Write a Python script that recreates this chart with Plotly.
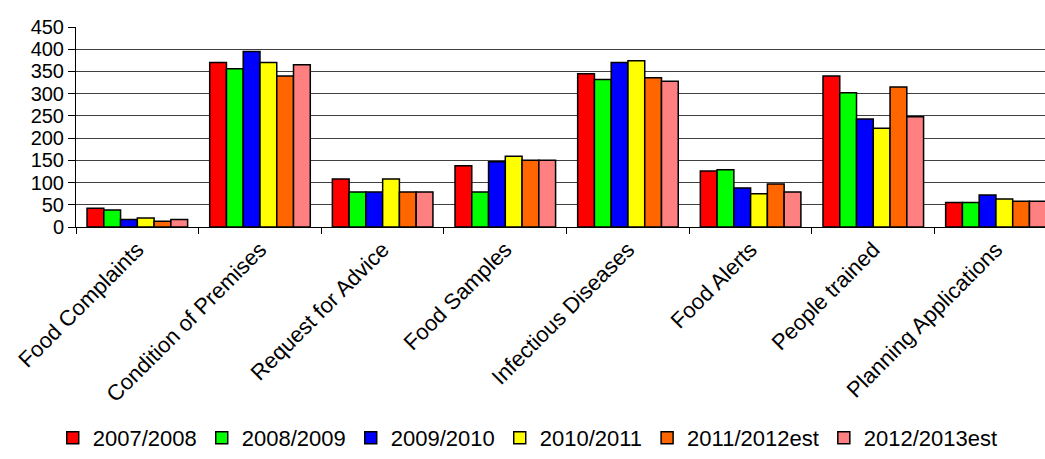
import plotly.graph_objects as go

categories = ["Food Complaints", "Condition of Premises", "Request for Advice", "Food Samples",
              "Infectious Diseases", "Food Alerts", "People trained", "Planning Applications"]

s2007_2008 = [42, 370, 108, 138, 345, 126, 340, 55]
s2008_2009 = [38, 356, 79, 79, 332, 129, 302, 55]
s2009_2010 = [17, 395, 79, 147, 370, 88, 243, 72]
s2010_2011 = [20, 370, 108, 159, 374, 75, 222, 63]
s2011_2012est = [13, 340, 79, 150, 336, 97, 315, 58]
s2012_2013est = [17, 365, 79, 150, 328, 79, 248, 58]

series_names = ["2007/2008", "2008/2009", "2009/2010", "2010/2011", "2011/2012est", "2012/2013est"]
series_values = [s2007_2008, s2008_2009, s2009_2010, s2010_2011, s2011_2012est, s2012_2013est]
colors = ["#FF0000", "#00FF00", "#0000FF", "#FFFF00", "#FF6600", "#FF8080"]

fig = go.Figure()
for name, vals, col in zip(series_names, series_values, colors):
    fig.add_trace(go.Bar(x=categories, y=vals, name=name,
                         marker=dict(color=col, line=dict(color="black", width=1.5))))

font_family = "Liberation Sans, Arial, sans-serif"
fig.update_layout(
    width=1045, height=459,
    margin=dict(l=76, r=0, t=27, b=232, autoexpand=False),
    paper_bgcolor="white", plot_bgcolor="white",
    barmode="group", bargap=0.18, bargroupgap=0,
    font=dict(family=font_family, color="black", size=22),
    showlegend=True,
    legend=dict(orientation="h", x=0.505, xanchor="center", xref="container",
                y=0.0, yanchor="bottom", yref="container",
                font=dict(size=22), itemwidth=30, traceorder="normal"),
    xaxis=dict(range=[-0.5, 7.4], tickangle=-45, showline=True, linecolor="black", linewidth=1,
               ticks="outside", ticklen=6, tickcolor="black", tickson="boundaries",
               tickfont=dict(size=22), showgrid=False, automargin=False),
    yaxis=dict(range=[0, 450], dtick=50, showline=True, linecolor="black", linewidth=1,
               ticks="outside", ticklen=7, tickcolor="black",
               showgrid=True, gridcolor="#404040", gridwidth=1,
               tickfont=dict(size=20), zeroline=False, automargin=False),
)

fig.write_html("out.html")
